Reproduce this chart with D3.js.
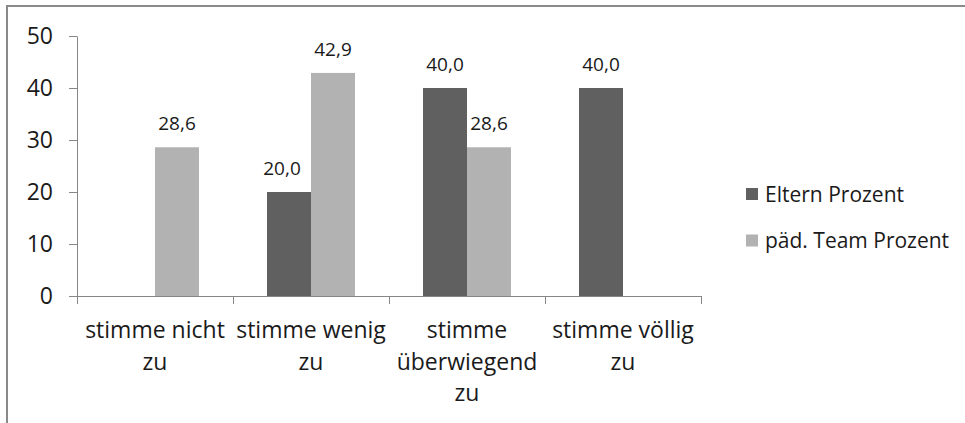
<!DOCTYPE html>
<html>
<head>
<meta charset="utf-8">
<script src="https://cdn.jsdelivr.net/npm/d3@7"></script>
<style>
  html, body { margin: 0; padding: 0; background: #fff; }
  svg { display: block; font-family: "Open Sans", "Noto Sans", sans-serif; }
</style>
</head>
<body>
<svg id="chart" width="965" height="423"></svg>
<script>
// ---- data ----
const categories = ["stimme nicht zu", "stimme wenig zu", "stimme überwiegend zu", "stimme völlig zu"];
const seriesNames = ["Eltern Prozent", "päd. Team Prozent"];
const elternValues = [null, 20.0, 40.0, 40.0];
const teamValues = [28.6, 42.9, 28.6, null];
const yTickValues = [0, 10, 20, 30, 40, 50];

// ---- layout / style ----
const W = 965, H = 423;
const plot = { left: 77, right: 701, top: 36, bottom: 296 };
const colors = { "Eltern Prozent": "#606060", "päd. Team Prozent": "#b2b2b2" };
const axisColor = "#868686";
const textColor = "#1a1a1a";
const labelNudge = { "Eltern Prozent|stimme wenig zu": -7 };

const svg = d3.select("#chart");

// outer frame (top and left edges visible)
svg.append("rect")
  .attr("x", 7).attr("y", 6)
  .attr("width", W + 20).attr("height", H + 20)
  .attr("fill", "#fff")
  .attr("stroke", "#8a8a8a").attr("stroke-width", 2);

const y = d3.scaleLinear().domain([0, 50]).range([plot.bottom, plot.top]);
const x0 = d3.scaleBand().domain(categories).range([plot.left, plot.right]).padding(0);
const x1 = d3.scaleBand().domain(seriesNames).range([0, x0.bandwidth()])
  .paddingInner(0).paddingOuter(0.773);

const de = d3.formatLocale({ decimal: ",", thousands: ".", grouping: [3], currency: ["", " €"] });
const fmt = de.format(".1f");

const rows = [];
categories.forEach((c, i) => {
  rows.push({ cat: c, series: seriesNames[0], value: elternValues[i] });
  rows.push({ cat: c, series: seriesNames[1], value: teamValues[i] });
});
const present = rows.filter(d => d.value !== null && d.value !== undefined);

// bars
svg.append("g").selectAll("rect").data(present).join("rect")
  .attr("x", d => x0(d.cat) + x1(d.series))
  .attr("width", x1.bandwidth())
  .attr("y", d => y(d.value))
  .attr("height", d => y(0) - y(d.value))
  .attr("fill", d => colors[d.series]);

// y axis
const yAxis = svg.append("g")
  .attr("transform", `translate(${plot.left},0)`)
  .call(d3.axisLeft(y).tickValues(yTickValues).tickSize(8).tickSizeOuter(0).tickPadding(16).tickFormat(d3.format("d")));
yAxis.select(".domain").attr("stroke", axisColor);
yAxis.selectAll(".tick line").attr("stroke", axisColor);
yAxis.selectAll(".tick text").attr("fill", textColor).style("font-size", "23px")
  .style("font-family", "'Open Sans', sans-serif");

// x axis (ticks at category boundaries)
const xb = d3.scaleLinear().domain([0, categories.length]).range([plot.left, plot.right]);
const xAxis = svg.append("g")
  .attr("transform", `translate(0,${plot.bottom})`)
  .call(d3.axisBottom(xb).tickValues(d3.range(categories.length + 1)).tickSize(8).tickSizeOuter(0).tickFormat(""));
xAxis.select(".domain").attr("stroke", axisColor);
xAxis.selectAll(".tick line").attr("stroke", axisColor);

// category labels (wrapped to band width)
const catG = svg.append("g").attr("fill", textColor)
  .style("font-size", "23px").attr("text-anchor", "middle");
categories.forEach(c => {
  const t = catG.append("text").attr("x", x0(c) + x0.bandwidth() / 2).attr("y", 338);
  const words = c.split(" ");
  let lines = [], line = [];
  const probe = catG.append("text").style("visibility", "hidden");
  words.forEach(w => {
    const test = line.concat([w]).join(" ");
    probe.text(test);
    if (line.length && probe.node().getComputedTextLength() > x0.bandwidth()) {
      lines.push(line.join(" "));
      line = [w];
    } else {
      line.push(w);
    }
  });
  lines.push(line.join(" "));
  probe.remove();
  lines.forEach((l, k) => {
    t.append("tspan").attr("x", x0(c) + x0.bandwidth() / 2).attr("y", 338 + k * 31.5).text(l);
  });
});

// data labels
svg.append("g").selectAll("text").data(present).join("text")
  .attr("x", d => x0(d.cat) + x1(d.series) + x1.bandwidth() / 2 + (labelNudge[d.series + "|" + d.cat] || 0))
  .attr("y", d => y(d.value) - 17)
  .attr("text-anchor", "middle")
  .attr("fill", textColor)
  .style("font-size", "19px")
  .text(d => fmt(d.value));

// legend
const legend = svg.append("g").attr("transform", "translate(746,188)");
seriesNames.forEach((s, i) => {
  const g = legend.append("g").attr("transform", `translate(0,${i * 46.5})`);
  g.append("rect").attr("width", 12).attr("height", 12).attr("fill", colors[s]);
  g.append("text").attr("x", 19).attr("y", 13.5)
    .attr("fill", textColor).style("font-size", "21px").text(s);
});
</script>
</body>
</html>
